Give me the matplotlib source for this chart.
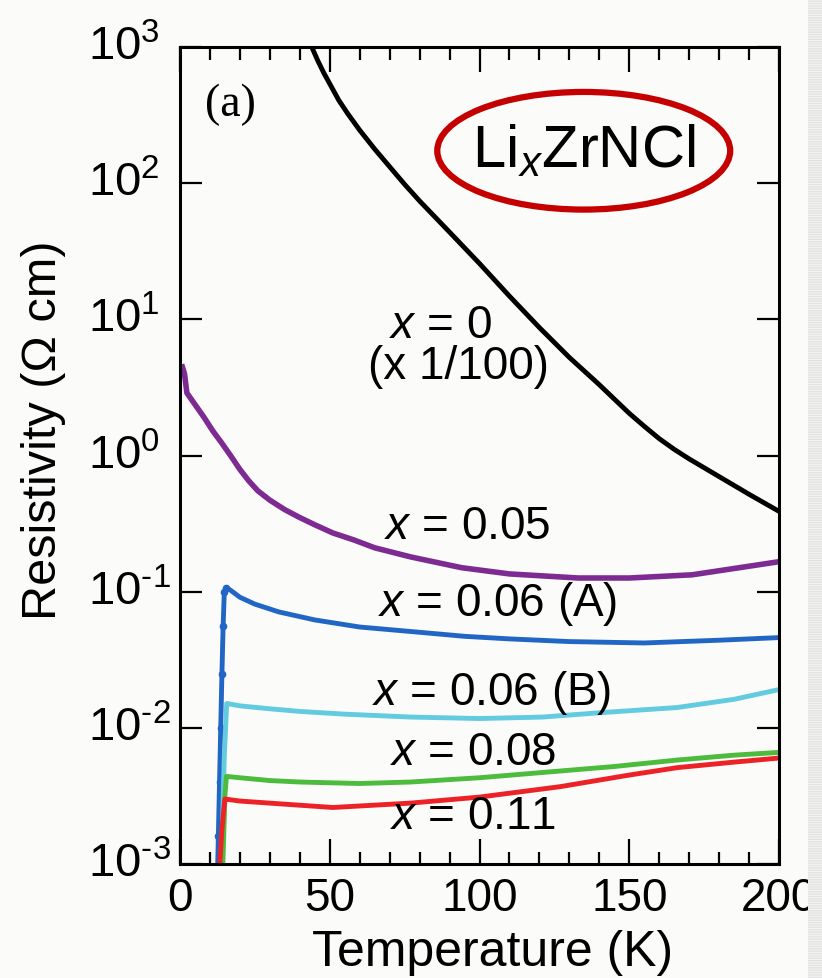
import numpy as np
import matplotlib
matplotlib.use('Agg')
import matplotlib.pyplot as plt
from matplotlib.patches import Ellipse, Rectangle
from matplotlib.ticker import FixedLocator, MultipleLocator, NullLocator
from matplotlib.transforms import ScaledTranslation

plt.rcParams['font.family'] = ['Liberation Sans', 'DejaVu Sans']
plt.rcParams['mathtext.fontset'] = 'custom'
plt.rcParams['mathtext.rm'] = 'Liberation Sans'
plt.rcParams['mathtext.it'] = 'Liberation Sans:italic'

# data (T in K, resistivity in Ohm cm) #
T_x0 = [42, 44, 46, 48, 50, 53, 56, 60, 65, 70, 75, 80, 90, 100, 110, 120, 130, 140, 150, 155, 160,
        165, 170, 180, 190, 200]
rho_x0 = [1259, 1000, 794, 646, 537, 407, 324, 245, 178, 132, 98, 74, 43.7, 25.7, 14.8, 8.7, 5.25,
          3.31, 2.04, 1.64, 1.33, 1.11, 0.944, 0.70, 0.519, 0.389]

T_x005 = [0.8, 1.5, 2.3, 5, 8, 11, 14, 17, 20, 23, 26, 30, 35, 40, 45, 51, 58, 65, 77, 94, 110, 133,
          150, 171, 185, 200]
rho_x005 = [4.47, 3.98, 2.88, 2.37, 1.91, 1.51, 1.23, 0.99, 0.79, 0.65, 0.55, 0.47, 0.40, 0.35, 0.31,
            0.27, 0.24, 0.21, 0.18, 0.15, 0.135, 0.126, 0.126, 0.133, 0.148, 0.166]

T_x006A = [12.4, 12.8, 13.2, 13.6, 14.0, 14.4, 14.8, 15.5, 17, 20, 25, 33, 45, 60, 77, 95, 110, 130,
           155, 180, 200]
rho_x006A = [6.3e-4, 1.6e-3, 4.0e-3, 0.010, 0.025, 0.056, 0.10, 0.107, 0.102, 0.091, 0.081, 0.071,
             0.062, 0.055, 0.051, 0.047, 0.045, 0.043, 0.042, 0.044, 0.046]

T_x006B = [13.6, 14.2, 14.8, 15.6, 20, 30, 40, 55, 77, 100, 121, 140, 166, 185, 200]
rho_x006B = [6.3e-4, 2.0e-3, 6.3e-3, 0.0151, 0.0145, 0.0138, 0.0132, 0.0126, 0.0120, 0.0117, 0.0120,
             0.0129, 0.0141, 0.0162, 0.0191]

T_x008 = [14.0, 14.6, 15.0, 15.5, 20, 30, 40, 60, 77, 100, 121, 145, 166, 185, 200]
rho_x008 = [6.3e-4, 1.6e-3, 3.2e-3, 4.4e-3, 4.3e-3, 4.1e-3, 4.0e-3, 3.9e-3, 4.0e-3, 4.3e-3, 4.7e-3,
            5.2e-3, 5.8e-3, 6.3e-3, 6.6e-3]

T_x011 = [12.8, 13.4, 14.0, 14.6, 15.0, 20, 35, 51, 77, 100, 127, 150, 166, 185, 200]
rho_x011 = [6.3e-4, 1.1e-3, 1.8e-3, 2.5e-3, 3.0e-3, 2.9e-3, 2.75e-3, 2.6e-3, 2.8e-3, 3.1e-3, 3.7e-3,
            4.5e-3, 5.1e-3, 5.6e-3, 6.0e-3]

y_ticks = [1e-3, 1e-2, 1e-1, 1e0, 1e1, 1e2, 1e3]
y_ticklabels = ['$10^{\u2010 3}$', '$10^{\u2010 2}$', '$10^{\u2010 1}$', r'$10^{0}$', r'$10^{1}$',
                r'$10^{2}$', r'$10^{3}$']
x_ticks = [0, 50, 100, 150, 200]

bg = '#fbfbf9'

# plotting #
fig = plt.figure(figsize=(8.22, 9.79), dpi=100, facecolor=bg)
ax = fig.add_axes([180/822, 114/979, 599/822, 817/979])
ax.set_facecolor(bg)

ax.plot(T_x0, rho_x0, color='black', lw=3.5)
ax.plot(T_x005, rho_x005, color='#7d2b92', lw=4)
ax.plot(T_x006A, rho_x006A, color='#2166c4', lw=3.5, marker='o', ms=4.5, markevery=list(range(8)))
ax.plot(T_x006B, rho_x006B, color='#63cbe0', lw=3.5)
ax.plot(T_x008, rho_x008, color='#4dbb3c', lw=3.5)
ax.plot(T_x011, rho_x011, color='#ec2227', lw=3.5)

ax.set_yscale('log')
ax.set_xlim(0, 200)
ax.set_ylim(1e-3, 1e3)

ax.yaxis.set_major_locator(FixedLocator(y_ticks))
ax.yaxis.set_minor_locator(NullLocator())
ax.set_yticklabels(y_ticklabels, fontsize=34, ha='left')
ax.xaxis.set_major_locator(FixedLocator(x_ticks))
ax.xaxis.set_minor_locator(MultipleLocator(10))
ax.set_xticklabels([str(t) for t in x_ticks], fontsize=33)

ax.tick_params(axis='both', which='both', direction='in', top=True, right=True, colors='black')
ax.tick_params(axis='x', which='major', length=18, width=1.6, pad=9)
ax.tick_params(axis='x', which='minor', length=9, width=1.6)
ax.tick_params(axis='y', which='major', length=16, width=1.6, pad=66)
for s in ax.spines.values():
    s.set_linewidth(2.2)

# lift the y labels a little, as in the original
shift = ScaledTranslation(0, 5/100, fig.dpi_scale_trans)
for lbl in ax.get_yticklabels():
    lbl.set_transform(lbl.get_transform() + shift)

ax.set_xlabel('Temperature (K)', fontsize=36)
ax.xaxis.set_label_coords((493 - 180) / 599, -0.08)
ax.set_ylabel('Resistivity (\u03a9 cm)', fontsize=35)
ax.yaxis.set_label_coords(-0.19, 0.532)

# annotations #
fs = 33
ax.text(87, 10**0.96, r'$\mathit{x}$ = 0', fontsize=fs, ha='center', va='center')
ax.text(93, 10**0.66, '(x 1/100)', fontsize=fs, ha='center', va='center')
ax.text(96, 10**-0.52, r'$\mathit{x}$ = 0.05', fontsize=fs, ha='center', va='center')
ax.text(106, 10**-1.08, r'$\mathit{x}$ = 0.06 (A)', fontsize=fs, ha='center', va='center')
ax.text(104, 10**-1.74, r'$\mathit{x}$ = 0.06 (B)', fontsize=fs, ha='center', va='center')
ax.text(98, 10**-2.18, r'$\mathit{x}$ = 0.08', fontsize=fs, ha='center', va='center')
ax.text(98, 10**-2.65, r'$\mathit{x}$ = 0.11', fontsize=fs, ha='center', va='center')

ax.text(0.042, 0.93, '(a)', transform=ax.transAxes, fontsize=33, family='Liberation Serif',
        ha='left', va='center')
ax.text(0.674, 0.873, r'Li$_{\mathit{x}}$ZrNCl', transform=ax.transAxes, fontsize=43,
        ha='center', va='center')
ax.add_patch(Ellipse((0.674, 0.873), 0.489, 0.144, transform=ax.transAxes, fill=False,
                     edgecolor='#c40000', lw=4.5, clip_on=False))

# cropped edge of the neighbouring panel #
fig.patches.append(Rectangle((808/822, 0), 14/822, 1, transform=fig.transFigure,
                             facecolor='#f6f6f5', edgecolor='#e2e2e2', hatch='-------',
                             lw=0, zorder=10))

fig.savefig('out.png', dpi=100, facecolor=bg)
